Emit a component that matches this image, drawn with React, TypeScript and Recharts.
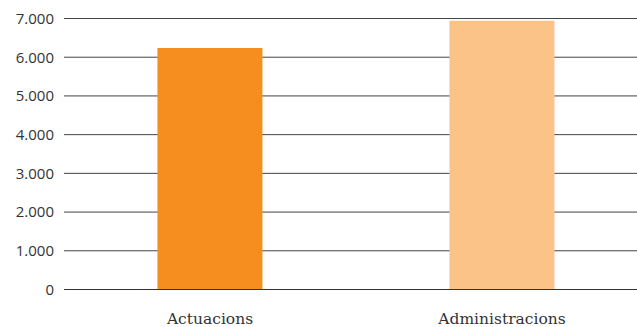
import React from "react";
import { BarChart, Bar, XAxis, YAxis, CartesianGrid, Cell } from "recharts";

const categories = ["Actuacions", "Administracions"];
const values = [6240, 6940];
const colors = ["#F58E1E", "#FCC388"];
const yTicks = [0, 1000, 2000, 3000, 4000, 5000, 6000, 7000];

const data = categories.map((name, i) => ({ name, value: values[i] }));

const fmt = (v: number) => String(v).replace(/\B(?=(\d{3})+(?!\d))/g, ".");

export default function App() {
  return (
    <div style={{ position: "fixed", left: 0, top: 0, width: 637, height: 327, overflow: "hidden", background: "#fff" }}>
      <BarChart
        width={660}
        height={327}
        data={data}
        margin={{ top: 18.5, right: 12, bottom: 7.5, left: 0 }}
        barCategoryGap="32%"
      >
        <CartesianGrid vertical={false} stroke="#444" strokeWidth={1} />
        <XAxis
          dataKey="name"
          height={30}
          axisLine={{ stroke: "#333" }}
          tickLine={false}
          tickMargin={17}
          tick={{ fill: "#333", fontSize: 15.5, fontFamily: "DejaVu Serif" }}
        />
        <YAxis
          width={64}
          domain={[0, 7000]}
          ticks={yTicks}
          tickFormatter={fmt}
          axisLine={false}
          tickLine={false}
          tickMargin={4}
          tick={{ fill: "#333", fontSize: 15, fontFamily: "Open Sans" }}
        />
        <Bar dataKey="value" isAnimationActive={false}>
          {data.map((d, i) => (
            <Cell key={d.name} fill={colors[i]} />
          ))}
        </Bar>
      </BarChart>
    </div>
  );
}
